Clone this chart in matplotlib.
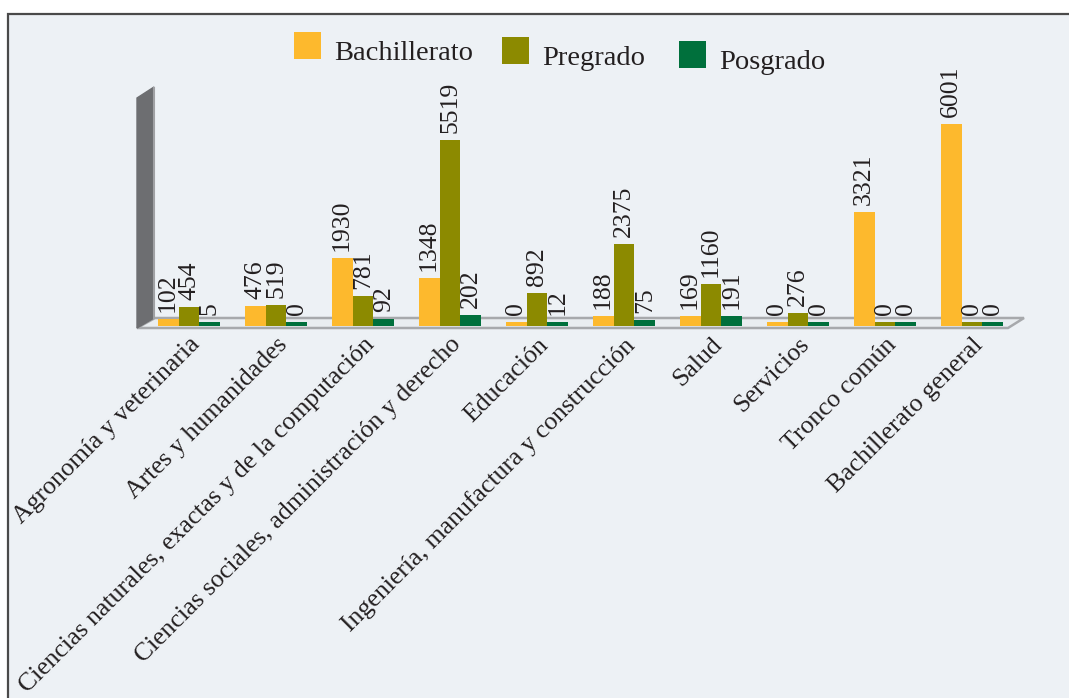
import matplotlib
matplotlib.use('Agg')
import matplotlib.pyplot as plt
from matplotlib.patches import Rectangle, Polygon
import numpy as np

plt.rcParams['font.family'] = ['Liberation Serif', 'DejaVu Serif']

# Datos
categorias = ['Agronomía y veterinaria', 'Artes y humanidades',
              'Ciencias naturales, exactas y de la computación',
              'Ciencias sociales, administración y derecho', 'Educación',
              'Ingeniería, manufactura y construcción', 'Salud', 'Servicios',
              'Tronco común', 'Bachillerato general']
bachillerato = [102, 476, 1930, 1348, 0, 188, 169, 0, 3321, 6001]
pregrado = [454, 519, 781, 5519, 892, 2375, 1160, 276, 0, 0]
posgrado = [5, 0, 92, 202, 12, 75, 191, 0, 0, 0]

series = ['Bachillerato', 'Pregrado', 'Posgrado']
colores = ['#FDB92D', '#8C8A00', '#00703C']
texto = '#231F20'

W, H = 1069, 698
fig = plt.figure(figsize=(W / 100, H / 100), dpi=100, facecolor='white')

# fondo, marco, pared y piso (coordenadas en pixeles)
bg = fig.add_axes([0, 0, 1, 1], zorder=0)
bg.set_xlim(0, W)
bg.set_ylim(H, 0)
bg.axis('off')
bg.add_patch(Rectangle((8, 14), W, H, facecolor='#EDF1F5', edgecolor='#4A4A4A', lw=1.6))
bg.add_patch(Polygon([(137, 328), (1008, 328), (1024, 318), (155, 318)], closed=True,
                     facecolor='#E9EDF0', edgecolor='#A7A9AC', lw=1.8))
bg.add_patch(Polygon([(137, 98), (154, 87), (154, 318), (137, 328)], closed=True,
                     facecolor='#6D6E71', edgecolor='#6D6E71', lw=1))
bg.plot([153.5, 153.5], [88, 318], color='#A0A1A4', lw=1.5)

# leyenda
ley_x = [294, 502, 679]
ley_y = [32, 37, 41]
for nombre, c, lx, ly in zip(series, colores, ley_x, ley_y):
    bg.add_patch(Rectangle((lx, ly), 27, 27, facecolor=c, edgecolor='none'))
    bg.text(lx + 40, ly + 28, nombre, fontsize=20.5, color=texto, va='baseline', ha='left')

# barras
ax = fig.add_axes([137 / W, (H - 328) / H, (1030 - 137) / W, (328 - 60) / H], zorder=1)
ax.patch.set_alpha(0)
x = np.arange(len(categorias))
ancho = 0.24
base = 121
for k, (vals, c) in enumerate(zip([bachillerato, pregrado, posgrado], colores)):
    vals = np.array(vals)
    pos = x + (k - 1) * ancho
    ax.bar(pos, vals + base, bottom=-base, width=ancho, color=c, edgecolor='none')
    for px, v in zip(pos, vals):
        ax.annotate(str(v), (px, v), xytext=(0, 5), textcoords='offset points',
                    rotation=90, ha='center', va='bottom', fontsize=18.5, color=texto)

ax.set_xlim(-0.598, 9.667)
ax.set_ylim(-182, 7942)
for s in ax.spines.values():
    s.set_visible(False)
ax.set_yticks([])
ax.set_xticks(x)
ax.set_xticklabels(categorias, rotation=45, ha='right', rotation_mode='anchor',
                   fontsize=18.5, color=texto)
ax.tick_params(axis='x', length=0, pad=4)

fig.savefig('out.png', dpi=100, facecolor='white')
